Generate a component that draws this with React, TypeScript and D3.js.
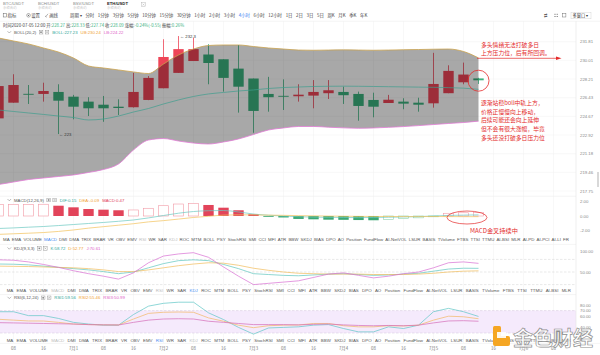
import React from "react";
import * as d3 from "d3";

// ---------------- data ----------------
const priceTicks = [231.81, 230.01, 228.21, 226.43, 224.67, 222.92, 221.18, 219.46, 217.75];

const candleOpen = [224.48, 225.96, 226.8, 226.79, 226.98, 226.53, 226.06, 225.77, 225.58, 225.53, 226.22, 227.33, 228.8, 229.94, 230.57, 230.11, 229.21, 228.26, 226.79, 226.61, 226.57, 226.63, 226.86, 226.98, 226.79, 226.22, 225.93, 226.06, 225.96, 225.9, 226.86, 227.9, 228.27];
const candleHigh = [227.6, 228.67, 227.64, 227.86, 227.71, 226.7, 226.48, 226.6, 226.28, 228.8, 228.5, 232.05, 232.36, 232.2, 231.58, 230.11, 231.49, 228.26, 228.42, 228.18, 227.71, 228.11, 228.11, 227.48, 227.01, 226.91, 226.7, 226.38, 226.43, 230.73, 229.53, 229.79, 228.33];
const candleLow = [224.4, 225.96, 225.84, 226.06, 223.01, 224.39, 224.7, 224.16, 224.8, 225.5, 226.2, 227.33, 228.8, 229.94, 227.71, 227.01, 225.02, 223.13, 225.11, 225.27, 226.06, 225.43, 226.31, 225.84, 224.26, 224.58, 225.93, 225.34, 225.11, 225.49, 226.86, 227.71, 227.74];
const candleClose = [227.54, 227.64, 226.79, 227.07, 226.15, 225.58, 225.43, 225.43, 225.46, 226.98, 228.32, 230.33, 231.09, 231.09, 229.75, 228.32, 227.48, 225.18, 226.48, 226.6, 226.72, 226.98, 227.14, 226.67, 225.65, 225.58, 226.24, 225.87, 225.77, 227.74, 228.99, 228.64, 228.09];

const bollUpper = [232.17, 231.88, 231.59, 231.2, 230.81, 230.23, 229.46, 229.27, 229.08, 228.89, 228.74, 229.65, 230.52, 231.1, 231.44, 231.49, 231.49, 231.34, 231.2, 231.1, 231.0, 230.98, 231.0, 231.02, 231.0, 230.98, 231.0, 231.03, 231.05, 231.08, 231.1, 230.86, 230.24];
const bollMid = [225.27, 225.13, 224.99, 224.85, 224.7, 224.56, 224.33, 224.42, 224.7, 225.08, 225.41, 225.84, 226.22, 226.55, 226.79, 226.93, 227.07, 227.17, 227.31, 227.4, 227.45, 227.5, 227.52, 227.53, 227.52, 227.5, 227.48, 227.46, 227.44, 227.42, 227.39, 227.34, 227.23];
const bollLower = [218.34, 218.57, 218.8, 218.94, 219.08, 219.22, 219.45, 219.72, 220.23, 221.53, 222.45, 222.59, 222.36, 222.17, 222.08, 222.27, 222.55, 222.97, 223.39, 223.58, 223.72, 223.72, 223.65, 223.59, 223.55, 223.58, 223.64, 223.71, 223.8, 223.9, 224.0, 224.09, 224.22];

const macdHist = [1.55, 1.58, 1.59, 1.6, 1.4, 1.18, 0.95, 0.86, 0.78, 0.82, 1.05, 1.4, 1.63, 1.72, 1.5, 1.13, 0.78, 0.24, -0.05, -0.2, -0.4, -0.45, -0.5, -0.52, -0.55, -0.58, -0.45, -0.35, -0.25, -0.1, 0.37, 0.44, 0.47];
const macdDif = [-1.7, -1.62, -1.52, -1.43, -1.3, -1.16, -1.02, -0.88, -0.72, -0.54, -0.26, 0.07, 0.38, 0.61, 0.72, 0.75, 0.55, 0.27, 0.1, 0.0, -0.1, -0.15, -0.18, -0.2, -0.22, -0.2, -0.17, -0.13, -0.08, 0.0, 0.08, 0.12, 0.15];
const macdDea = [-2.5, -2.42, -2.34, -2.25, -2.1, -1.9, -1.65, -1.45, -1.25, -1.05, -0.8, -0.63, -0.42, -0.2, -0.04, 0.12, 0.16, 0.15, 0.12, 0.09, 0.05, 0.02, -0.01, -0.03, -0.05, -0.06, -0.07, -0.08, -0.08, -0.07, -0.08, -0.09, -0.09];
const macdTicks = [2, 0, -2];

const kdjK = [69, 68.5, 67, 64, 61, 58, 55, 51, 46, 50, 60, 70, 77, 79, 77, 68, 58, 46, 44, 42, 41, 43, 45, 46, 44, 42, 43, 45, 47, 52, 57, 59, 58.72];
const kdjD = [64, 63.5, 63, 62, 61, 60, 58, 55, 51, 51, 55, 60, 65, 69, 72, 71, 66, 59, 54, 50, 47, 46, 45, 45, 45, 44, 44, 44, 45, 47, 50, 52, 52.77];
const kdjJ = [79, 78, 74, 68, 61, 53, 46, 40, 33, 48, 72, 88, 93, 96, 85, 62, 40, 20, 23, 26, 29, 37, 45, 48, 42, 36, 40, 46, 50, 60, 72, 74, 70.61];
const kdjTicks = [100, 50];
const kdjGuides = [80, 50, 20];

const rsi1 = [68, 68, 61, 61, 56, 49, 46, 44, 44, 63, 78, 83, 85, 85, 66, 54, 40, 28, 39, 40, 41, 44, 45, 38, 32, 32, 41, 38, 44, 68, 74, 68, 59.56];
const rsi2 = [54.5, 53, 51.5, 51.4, 49, 46, 45, 44.5, 44.3, 55, 65, 67, 67.5, 67, 57, 51, 44, 39.5, 43, 44, 44.3, 47, 47, 43, 41, 41, 43, 42.5, 44, 53, 60, 59, 55.46];
const rsi3 = [48.5, 48, 47.5, 47, 46.5, 46, 45, 44.5, 44.3, 49, 53, 55, 55.5, 55, 51, 49, 47, 45, 45, 45, 44.5, 45.5, 46, 44.5, 43.5, 43, 43.5, 43, 44, 48, 51.5, 52, 50.99];
const rsiTicks = [80, 70, 60, 40, 30];
const rsiBand = [70, 30];

const timeLabels = ["08", "16", "7月1", "08", "16", "7月2", "08", "16", "7月3", "08", "16", "7月4", "08", "16", "7月5", "08", "16", "7月6", "08"];

const indicatorNames = ["MA", "EMA", "VOLUME", "MACD", "DMI", "DMA", "TRIX", "BRAR", "VR", "OBV", "EMV", "RSI", "WR", "SAR", "KDJ", "ROC", "MTM", "BOLL", "PSY", "StochRSI", "SMI", "CCI", "MFI", "ATR", "BBW", "SKDJ", "BIAS", "DPO", "AO", "Position", "FundFlow", "AI-NetVOL", "LSUR", "BASIS", "TVolume", "FTBS", "TTSI", "TTMU", "AI-BSI", "MLR", "AI-PD", "AI-PCI", "AI-LI", "FR"];

const periods = ["周期 ▾", "分时", "1分钟", "3分钟", "5分钟", "10分钟", "15分钟", "30分钟", "1小时", "2小时", "3小时", "4小时", "6小时", "12小时", "1日", "2日", "3日", "5日", "周K", "月K", "季K", "年K"];
const activePeriod = "4小时";

const pairs = ["BTC/USDT", "BCH/USDT", "BSV/USDT", "ETH/USDT"];
const activePair = "ETH/USDT";

const noteTop = ["多头情绪无法打破多日", "上方压力位，后有所回调。"];
const noteMid = ["逐渐站稳boll中轨上方，", "价格正慢慢向上移动，", "后续可能还会向上延伸", "但不会有很大涨幅，毕竟", "多头还没打破多日压力位"];
const noteMacd = "MACD金叉持续中";

// ---------------- helpers ----------------
const LATIN = "'Liberation Sans', Arial, sans-serif";
const CJK = "'Noto Sans CJK SC', 'Noto Sans', sans-serif";
const UP = "#ee4557";
const DOWN = "#3cb27f";
const NOTE = "#e42a2a";

let ctx: CanvasRenderingContext2D | null = null;
function textW(s: string, size: number, fam: string) {
  if (!ctx) ctx = document.createElement("canvas").getContext("2d");
  if (!ctx) return s.length * size * 0.6;
  ctx.font = `${size}px ${fam}`;
  return ctx.measureText(s).width;
}
function flowX(labels: string[], start: number, lastStart: number, size: number, fam: string) {
  const w = labels.map((l) => textW(l, size, fam));
  const n = labels.length;
  let sum = 0;
  for (let i = 0; i < n - 1; i++) sum += w[i];
  const gap = (lastStart - start - sum) / (n - 1);
  const xs: number[] = [];
  let cx = start;
  for (let i = 0; i < n; i++) {
    xs.push(cx);
    cx += w[i] + gap;
  }
  return xs;
}

function Header({ y, name, items }: { y: number; name: string; items: { t: string; c: string }[] }) {
  const fs = 4.3;
  const nameW = textW(name, fs, LATIN);
  const iconX = 14 + nameW + 3;
  let cx = iconX + 13;
  const parts = items.map((it) => {
    const px = cx;
    cx += textW(it.t, fs, LATIN) + 3;
    return { ...it, px };
  });
  return (
    <g fontFamily={LATIN} fontSize={fs}>
      <path d={`M7.5 ${y - 2.6} L9.3 ${y - 0.8} L11.1 ${y - 2.6}`} fill="none" stroke="#777" strokeWidth={0.5} />
      <text x={14} y={y} fill="#555">{name}</text>
      <rect x={iconX} y={y - 3.4} width={3.6} height={3.6} fill="none" stroke="#888" strokeWidth={0.4} />
      <rect x={iconX + 1} y={y - 2.4} width={1.6} height={1.6} fill="#888" />
      <rect x={iconX + 6} y={y - 3.4} width={3.6} height={3.6} fill="none" stroke="#888" strokeWidth={0.4} />
      <path d={`M${iconX + 6.8} ${y - 2.6} L${iconX + 8.8} ${y - 0.6} M${iconX + 8.8} ${y - 2.6} L${iconX + 6.8} ${y - 0.6}`} stroke="#888" strokeWidth={0.4} />
      {parts.map((p, i) => (
        <text key={i} x={p.px} y={y} fill={p.c}>{p.t}</text>
      ))}
    </g>
  );
}

function IndicatorRow({ y, count, start, last, active }: { y: number; count: number; start: number; last: number; active: string }) {
  const names = indicatorNames.slice(0, count);
  const fs = 4.4;
  const xs = flowX(names, start, last, fs, LATIN);
  const used = ["MACD", "KDJ", "RSI"];
  return (
    <g fontFamily={LATIN} fontSize={fs}>
      {names.map((nm, i) => (
        <text key={i} x={xs[i]} y={y} fill={nm === active ? "#4a8cf0" : used.includes(nm) ? "#bdbdbd" : "#555"}>{nm}</text>
      ))}
    </g>
  );
}

export default function App() {
  const n = candleOpen.length;
  const idx = d3.range(n);
  const x = d3.scaleLinear().domain([0, n - 1]).range([-1.5, 478.5]);
  const yP = d3.scaleLog().domain([217.75, 231.81]).range([191, 41.7]);
  const yM = d3.scaleLinear().domain([-2, 2]).range([230.7, 201.3]);
  const yK = d3.scaleLinear().domain([50, 100]).range([272, 251]);
  const yR = d3.scaleLinear().domain([30, 80]).range([333, 305]);
  const bw = 10.4;
  const axisX = 576;

  const band = d3
    .area<number>()
    .x((i) => x(i))
    .y0((i) => yP(bollLower[i]))
    .y1((i) => yP(bollUpper[i]))
    .curve(d3.curveMonotoneX)(idx) as string;
  const smooth = (arr: number[], ys: (v: number) => number) =>
    d3.line<number>().x((i) => x(i)).y((i) => ys(arr[i])).curve(d3.curveMonotoneX)(idx) as string;
  const straight = (arr: number[], ys: (v: number) => number) =>
    d3.line<number>().x((i) => x(i)).y((i) => ys(arr[i]))(idx) as string;

  const gridXs = d3.range(19).map((j) => x(1 + 2 * j));

  const perXs = flowX(periods, 70, 360, 4.4, CJK);
  const pairXs = [3, 38, 73, 107];

  const zero = yM(0);

  return (
    <div style={{ width: 600, height: 355, overflow: "hidden", background: "#fff" }}>
      <style>{`html,body{margin:0;padding:0;background:#fff}`}</style>
      <svg width={600} height={355} style={{ display: "block" }}>
        <defs>
          <clipPath id="mainClip"><rect x={0} y={21} width={axisX} height={175} /></clipPath>
          <clipPath id="plotClip"><rect x={0} y={0} width={axisX} height={355} /></clipPath>
        </defs>
        <rect x={0} y={0} width={600} height={355} fill="#fff" />

        {/* tabs row */}
        {pairs.map((p, i) => (
          <g key={p}>
            <text x={pairXs[i]} y={4.6} fontFamily={LATIN} fontSize={4.2} fill={p === activePair ? "#222" : "#888"} fontWeight={p === activePair ? 700 : 400}>{p}</text>
            <text x={pairXs[i]} y={8.8} fontFamily={CJK} fontSize={3.4} fill="#c4c4c4">永续合约</text>
          </g>
        ))}
        <rect x={141.5} y={2.6} width={4} height={4} fill="none" stroke="#aaa" strokeWidth={0.4} />
        <path d="M142.5 3.6 L144.5 5.6 M144.5 3.6 L142.5 5.6" stroke="#aaa" strokeWidth={0.4} />

        {/* toolbar */}
        <g fontFamily={CJK} fontSize={4.4} fill="#444">
          <rect x={3.2} y={13.6} width={3.4} height={3.4} fill="none" stroke="#555" strokeWidth={0.45} />
          <text x={7.6} y={17}>指标</text>
          <circle cx={28.5} cy={15.3} r={1.8} fill="none" stroke="#555" strokeWidth={0.45} />
          <circle cx={28.5} cy={15.3} r={0.6} fill="#555" />
          <text x={31.2} y={17}>设置</text>
          <path d="M45.5 17 L48 13.8 M45.2 16 L46.5 17.3" stroke="#555" strokeWidth={0.45} fill="none" />
          <text x={49.2} y={17}>画线</text>
          {periods.map((p, i) => (
            <text key={i} x={perXs[i]} y={17} fill={p === activePeriod ? "#3b7cf2" : "#444"}>{p}</text>
          ))}
          <text x={544} y={17} fontFamily={LATIN} fontSize={4.4} fill="#666">⇄</text>
          {[0, 1].map((a) => [0, 1].map((b) => (
            <rect key={`${a}${b}`} x={554.5 + a * 2.2} y={13.8 + b * 2.2} width={1} height={1} fill="#666" />
          )))}
          <rect x={562.5} y={13.6} width={3.4} height={3.4} fill="none" stroke="#666" strokeWidth={0.45} />
          <rect x={571} y={12.4} width={20} height={6.4} fill="#fff" stroke="#ccc" strokeWidth={0.4} />
          <text x={572.5} y={17} fontSize={4.2} fill="#333">多窗口 ▾</text>
        </g>
        <line x1={0} x2={600} y1={21.2} y2={21.2} stroke="#ececec" strokeWidth={0.6} />

        {/* grids */}
        <g stroke="#f1f1f1" strokeWidth={0.5}>
          {gridXs.map((gx, i) => (
            <line key={i} x1={gx} x2={gx} y1={21.2} y2={343} />
          ))}
          {priceTicks.map((t, i) => (
            <line key={i} x1={0} x2={axisX} y1={yP(t)} y2={yP(t)} />
          ))}
        </g>

        {/* info row */}
        <text x={3} y={27.4} fontFamily={CJK} fontSize={4.3} fill="#444">
          时间2020-07-05 12:00 开:<tspan fill={DOWN}>228.27</tspan> 高:<tspan fill={DOWN}>228.33</tspan> 低:<tspan fill={DOWN}>227.74</tspan> 收:<tspan fill={DOWN}>228.09</tspan> 涨幅:<tspan fill={DOWN}>-0.24%(-0.55)</tspan> 振幅:<tspan fill={DOWN}>0.26%</tspan>
        </text>

        <Header y={33.8} name="BOLL(20,2)" items={[{ t: "BOLL:227.23", c: "#2ea597" }, { t: "UB:230.24", c: "#f0a030" }, { t: "LB:224.22", c: "#e060c8" }]} />

        {/* main chart */}
        <g clipPath="url(#mainClip)">
          {idx.map((i) => {
            const up = candleClose[i] > candleOpen[i];
            const col = up ? UP : DOWN;
            const cx = x(i);
            const top = yP(Math.max(candleOpen[i], candleClose[i]));
            const bot = yP(Math.min(candleOpen[i], candleClose[i]));
            return (
              <g key={i}>
                <line x1={cx} x2={cx} y1={yP(candleHigh[i])} y2={yP(candleLow[i])} stroke={col} strokeWidth={0.8} />
                <rect x={cx - bw / 2} y={top} width={bw} height={Math.max(0.9, bot - top)} fill={col} />
              </g>
            );
          })}
          <path d={band} fill="rgba(0,0,0,0.34)" />
          <path d={smooth(bollUpper, yP)} fill="none" stroke="#caa24c" strokeWidth={0.8} />
          <path d={smooth(bollLower, yP)} fill="none" stroke="#e27ad6" strokeWidth={0.8} />
          <path d={smooth(bollMid, yP)} fill="none" stroke="#3f9e8e" strokeWidth={0.7} />
        </g>
        {/* high / low markers */}
        <g fontFamily={LATIN} fontSize={4.2} fill="#333">
          <text x={x(12) + 1.5} y={yP(candleHigh[12]) + 1.5}>← 232.3</text>
          <text x={x(4) + 0.5} y={yP(candleLow[4]) + 1.5}>← 223</text>
        </g>

        {/* MACD panel */}
        <line x1={0} x2={axisX} y1={196.2} y2={196.2} stroke="#ececec" strokeWidth={0.6} />
        <Header y={201.6} name="MACD(12,26,9)" items={[{ t: "DIF:0.15", c: "#2ea597" }, { t: "DEA:-0.09", c: "#f0a030" }, { t: "MACD:0.47", c: "#e0405a" }]} />
        <g clipPath="url(#plotClip)">
          {idx.map((i) => {
            const v = macdHist[i];
            const hollow = i === 0 || v >= macdHist[i - 1];
            const pos = v >= 0;
            const col = pos ? "#e2445a" : "#3aa874";
            const light = pos ? "#f29aa6" : "#8fd2ad";
            const y0 = Math.min(yM(v), zero);
            const h = Math.max(0.8, Math.abs(yM(v) - zero));
            return hollow ? (
              <rect key={i} x={x(i) - bw / 2 + 0.3} y={y0} width={bw - 0.6} height={h} fill="#fff" stroke={light} strokeWidth={0.6} />
            ) : (
              <rect key={i} x={x(i) - bw / 2} y={y0} width={bw} height={h} fill={col} />
            );
          })}
          <path d={smooth(macdDif, yM)} fill="none" stroke="#6cc9c2" strokeWidth={0.7} />
          <path d={smooth(macdDea, yM)} fill="none" stroke="#f2c25a" strokeWidth={0.7} />
        </g>
        <IndicatorRow y={241} count={44} start={3} last={563} active="MACD" />
        <line x1={0} x2={axisX} y1={244.4} y2={244.4} stroke="#ececec" strokeWidth={0.6} />

        {/* KDJ panel */}
        <Header y={250} name="KDJ(9,3,3)" items={[{ t: "K:58.72", c: "#2ea597" }, { t: "D:52.77", c: "#f0a030" }, { t: "J:70.61", c: "#e060c8" }]} />
        <g stroke="#d2d2d2" strokeWidth={0.5} strokeDasharray="2.5,1.5">
          {kdjGuides.map((g) => (
            <line key={g} x1={0} x2={axisX} y1={yK(g)} y2={yK(g)} />
          ))}
        </g>
        <path d={straight(kdjK, yK)} fill="none" stroke="#5fc6bf" strokeWidth={0.7} />
        <path d={straight(kdjD, yK)} fill="none" stroke="#f0bc5a" strokeWidth={0.7} />
        <path d={straight(kdjJ, yK)} fill="none" stroke="#d86ed2" strokeWidth={0.7} />
        <IndicatorRow y={291.6} count={40} start={6.7} last={561.7} active="KDJ" />
        <line x1={0} x2={axisX} y1={294.6} y2={294.6} stroke="#ececec" strokeWidth={0.6} />

        {/* RSI panel */}
        <Header y={299.4} name="RSI(6,12,24)" items={[{ t: "RSI1:59.56", c: "#2ea597" }, { t: "RSI2:55.46", c: "#f0a030" }, { t: "RSI3:50.99", c: "#e060c8" }]} />
        <rect x={0} y={yR(rsiBand[0])} width={axisX} height={yR(rsiBand[1]) - yR(rsiBand[0])} fill="#f5eafc" />
        <g stroke="#d2c4dc" strokeWidth={0.5} strokeDasharray="2.5,1.5">
          {rsiBand.map((g) => (
            <line key={g} x1={0} x2={axisX} y1={yR(g)} y2={yR(g)} />
          ))}
        </g>
        <path d={straight(rsi1, yR)} fill="none" stroke="#5fc6c6" strokeWidth={0.7} />
        <path d={straight(rsi2, yR)} fill="none" stroke="#f2b864" strokeWidth={0.7} />
        <path d={straight(rsi3, yR)} fill="none" stroke="#d46cb8" strokeWidth={0.7} />
        <IndicatorRow y={341.6} count={40} start={6.7} last={561.7} active="RSI" />
        <line x1={0} x2={600} y1={343.4} y2={343.4} stroke="#ececec" strokeWidth={0.6} />

        {/* time axis */}
        <g fontFamily={CJK} fontSize={4.3} fill="#777" textAnchor="middle">
          {timeLabels.map((t, j) => (
            <text key={j} x={x(1 + 2 * j)} y={349.6}>{t}</text>
          ))}
        </g>

        {/* right axis */}
        <line x1={axisX} x2={axisX} y1={21.2} y2={343.4} stroke="#e4e4e4" strokeWidth={0.6} />
        <g fontFamily={LATIN} fontSize={4.3} fill="#888">
          {priceTicks.map((t) => (
            <text key={t} x={580} y={yP(t) + 1.5}>{t.toFixed(2)}</text>
          ))}
          {macdTicks.map((t) => (
            <text key={t} x={580} y={yM(t) + 1.5}>{t.toFixed(2)}</text>
          ))}
          {kdjTicks.map((t) => (
            <text key={t} x={580} y={yK(t) + 1.5}>{t.toFixed(2)}</text>
          ))}
          {rsiTicks.map((t) => (
            <text key={t} x={580} y={yR(t) + 1.5}>{t.toFixed(2)}</text>
          ))}
        </g>
        <rect x={597} y={172} width={2} height={15} fill="#d8d8d8" />

        {/* annotations */}
        <g fontFamily={CJK} fontSize={5.8} fill={NOTE}>
          {noteTop.map((t, i) => (
            <text key={i} x={481} y={46.6 + i * 8.6}>{t}</text>
          ))}
          {noteMid.map((t, i) => (
            <text key={i} x={481} y={105 + i * 8.7}>{t}</text>
          ))}
          <text x={470} y={232.6} fontSize={6.2}>{noteMacd}</text>
        </g>
        <line x1={477} x2={558} y1={58.3} y2={58.3} stroke={NOTE} strokeWidth={0.7} />
        <path d="M556 56.6 L561.5 58.3 L556 60 Z" fill={NOTE} />
        <circle cx={x(n - 1)} cy={80.7} r={10.5} fill="none" stroke={NOTE} strokeWidth={0.8} />
        <ellipse cx={467} cy={217.5} rx={20} ry={6.5} fill="none" stroke={NOTE} strokeWidth={0.7} />

        {/* watermark */}
        <g>
          <rect x={493} y={326} width={8} height={13} rx={1.5} fill="#f5a623" />
          <rect x={493} y={336} width={17} height={10} rx={2} fill="#f5a623" />
          <rect x={497} y={332} width={9} height={6} fill="#ffffff" opacity={0.9} />
          <text x={513} y={345.5} fontFamily={CJK} fontSize={20} fontWeight={700} fill="rgba(255,255,255,0.8)" stroke="#8e8e8e" strokeWidth={0.7}>金色财经</text>
        </g>
      </svg>
    </div>
  );
}
